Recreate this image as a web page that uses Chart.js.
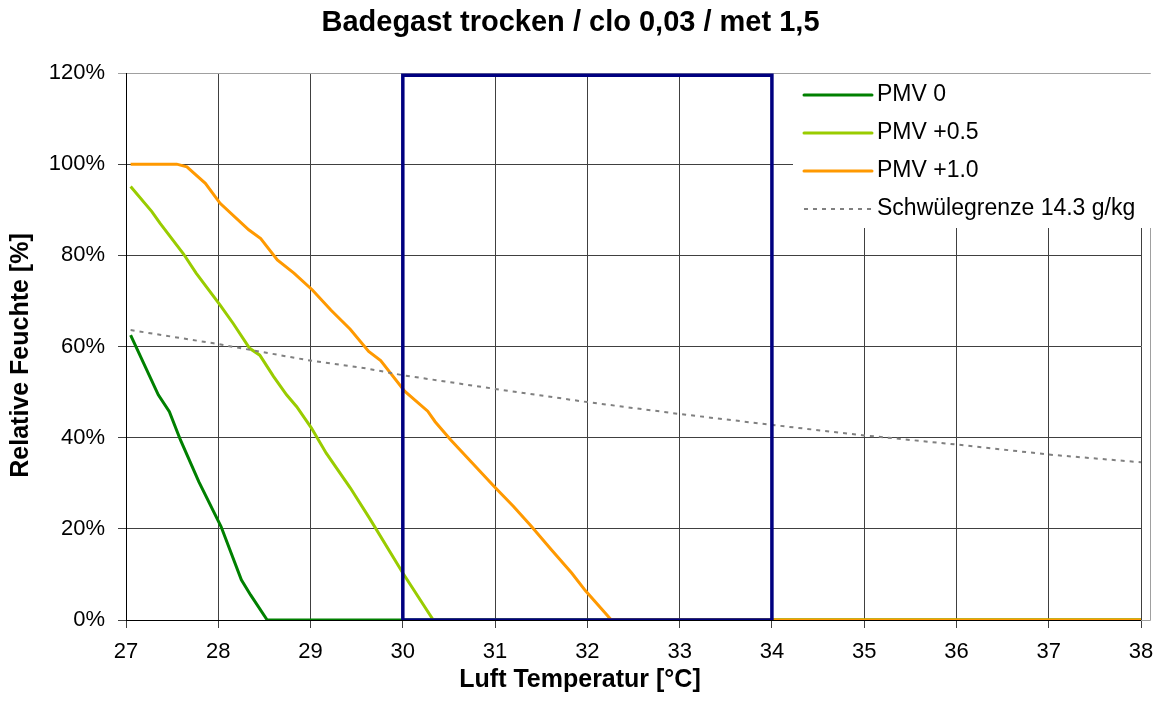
<!DOCTYPE html>
<html>
<head>
<meta charset="utf-8">
<title>Badegast trocken</title>
<script src="https://cdn.jsdelivr.net/npm/chart.js@4.4.1/dist/chart.umd.min.js"></script>
<style>
    html, body { margin: 0; padding: 0; background: #fff; }
    #wrap { width: 1166px; height: 711px; }
</style>
</head>
<body>
<div id="wrap"><canvas id="pmvChart" width="1166" height="711"></canvas></div>
<script>
// Luft Temperatur [°C] und relative Feuchte [%]
const seriesLabels = ['PMV 0', 'PMV +0.5', 'PMV +1.0', 'Schwülegrenze 14.3 g/kg'];

const pmv0Temp = [27.05, 27.35, 27.47, 27.59, 27.79, 28.03, 28.25, 28.35, 28.53, 30, 34, 38];
const pmv0Rh   = [62.5, 49.4, 45.7, 39.5, 30.3, 20.5, 8.8, 5.5, 0, 0, 0, 0];

const pmv05Temp = [27.05, 27.28, 27.37, 27.62, 27.76, 28.02, 28.16, 28.34, 28.45, 28.6, 28.74, 28.85, 29.01, 29.17, 29.43, 29.64, 30.0, 30.33, 34, 38];
const pmv05Rh   = [95.1, 89.6, 87.0, 80.4, 76.1, 69.1, 65.1, 59.6, 58.1, 53.4, 49.4, 46.8, 42.1, 36.6, 29.0, 22.3, 10.3, 0, 0, 0];

const pmv10Temp = [27.05, 27.55, 27.66, 27.86, 28.02, 28.33, 28.46, 28.64, 28.82, 29.02, 29.22, 29.43, 29.63, 29.76, 30.02, 30.27, 30.35, 30.52, 30.74, 30.99, 31.2, 31.39, 31.61, 31.83, 31.98, 32.26, 34, 38];
const pmv10Rh   = [100, 100, 99.4, 95.8, 91.4, 85.6, 83.7, 79.0, 76.1, 72.4, 68.0, 63.8, 58.9, 56.9, 50.2, 45.8, 43.5, 39.5, 34.7, 29.3, 24.9, 20.6, 15.4, 10.3, 6.4, 0, 0, 0];

const limitTemp = [27.05, 27.95, 28.97, 29.6, 30, 31, 32, 33, 34, 35, 36, 37, 38];
const limitRh   = [63.6, 60.7, 57.0, 55.2, 53.7, 50.7, 47.8, 45.2, 42.8, 40.5, 38.5, 36.3, 34.6];

// markierter Bereich 30..34 °C
const boxTemp = [30, 30, 34, 34, 30];
const boxRh   = [0, 119.5, 119.5, 0, 0];

const xTicks = [27, 28, 29, 30, 31, 32, 33, 34, 35, 36, 37, 38];
const yTicks = [0, 20, 40, 60, 80, 100, 120];

const chartTitle = 'Badegast trocken / clo 0,03 / met 1,5';
const xTitle = 'Luft Temperatur [°C]';
const yTitle = 'Relative Feuchte [%]';

const toPoints = (xs, ys) => xs.map((x, i) => ({ x: x, y: ys[i] }));

const FONT = "'Liberation Sans', Arial, sans-serif";
Chart.defaults.font.family = FONT;
Chart.defaults.color = '#000';

// Legende innerhalb der Zeichenfläche, oben rechts, plus Achsentitel
const insideLegend = {
    id: 'insideLegend',
    beforeDatasetsDraw(chart) {
        const ctx = chart.ctx;
        const a = chart.chartArea;
        ctx.save();
        ctx.strokeStyle = '#a0a0a0';
        ctx.lineWidth = 1;
        ctx.beginPath();
        ctx.moveTo(a.right, a.top + 0.5);
        ctx.lineTo(a.right + 9.5, a.top + 0.5);
        ctx.lineTo(a.right + 9.5, a.bottom + 0.5);
        ctx.lineTo(a.right, a.bottom + 0.5);
        ctx.stroke();
        ctx.restore();
    },
    afterDatasetsDraw(chart) {
        const ctx = chart.ctx;
        const a = chart.chartArea;
        const items = chart.data.datasets.filter(d => d.label);
        const left = a.right - 348;
        const top = a.top + 1;
        ctx.save();
        ctx.fillStyle = '#fff';
        ctx.fillRect(left, top, 362, 154);
        ctx.font = '23px ' + FONT;
        ctx.textBaseline = 'middle';
        items.forEach((ds, i) => {
            const y = a.top + 22 + i * 38;
            ctx.beginPath();
            ctx.strokeStyle = ds.borderColor;
            ctx.lineWidth = ds.borderWidth;
            ctx.lineCap = ds.borderDash ? 'butt' : 'round';
            ctx.setLineDash(ds.borderDash || []);
            ctx.moveTo(left + 11, y);
            ctx.lineTo(left + 79, y);
            ctx.stroke();
            ctx.fillStyle = '#000';
            ctx.fillText(ds.label, left + 84, y);
        });
        ctx.restore();
    },
    afterDraw(chart) {
        // Achsentitel sind im Original auf die ganze Bildfläche zentriert
        const ctx = chart.ctx;
        ctx.save();
        ctx.fillStyle = '#000';
        ctx.font = 'bold 25px ' + FONT;
        ctx.textAlign = 'center';
        ctx.textBaseline = 'middle';
        ctx.fillText(xTitle, chart.width / 2 - 3, 680);
        ctx.translate(21.5, chart.height / 2);
        ctx.rotate(-Math.PI / 2);
        ctx.fillText(yTitle, 0, 0);
        ctx.restore();
    }
};

const chartData = {
    datasets: [
        {
            label: seriesLabels[0],
            data: toPoints(pmv0Temp, pmv0Rh),
            borderColor: '#008000',
            borderWidth: 3,
            order: 4
        },
        {
            label: seriesLabels[1],
            data: toPoints(pmv05Temp, pmv05Rh),
            borderColor: '#99cc00',
            borderWidth: 3,
            order: 3
        },
        {
            label: seriesLabels[2],
            data: toPoints(pmv10Temp, pmv10Rh),
            borderColor: '#ff9900',
            borderWidth: 3,
            order: 2
        },
        {
            label: seriesLabels[3],
            data: toPoints(limitTemp, limitRh),
            borderColor: '#808080',
            borderWidth: 2,
            borderDash: [4, 5],
            order: 1
        },
        {
            label: '',
            data: toPoints(boxTemp, boxRh),
            borderColor: '#000080',
            borderWidth: 3.5,
            borderJoinStyle: 'miter',
            order: 0
        }
    ]
};

const chartConfig = {
    type: 'line',
    data: chartData,
    options: {
        responsive: false,
        animation: false,
        layout: {
            padding: { left: 0, right: 25, top: 0, bottom: 0 }
        },
        elements: {
            point: { radius: 0 },
            line: { tension: 0, fill: false }
        },
        plugins: {
            legend: { display: false },
            tooltip: { enabled: false },
            title: {
                display: true,
                text: chartTitle,
                font: { size: 29, weight: 'bold' },
                color: '#000',
                padding: { top: 6, bottom: 32.2 }
            }
        },
        scales: {
            x: {
                type: 'linear',
                min: 27,
                max: 38,
                afterBuildTicks: (scale) => { scale.ticks = xTicks.map(v => ({ value: v })); },
                afterFit: (scale) => { scale.height = 91; },
                grid: {
                    color: '#404040',
                    lineWidth: 1,
                    tickLength: 8
                },
                border: { color: '#000', width: 1 },
                ticks: {
                    font: { size: 22 },
                    padding: 11,
                    maxRotation: 0
                }
            },
            y: {
                min: 0,
                max: 120,
                afterBuildTicks: (scale) => { scale.ticks = yTicks.map(v => ({ value: v })); },
                afterFit: (scale) => { scale.width = 126; },
                grid: {
                    color: (context) => context.tick && context.tick.value === 120 ? '#a0a0a0' : '#404040',
                    lineWidth: 1,
                    tickLength: 8
                },
                border: { color: '#000', width: 1 },
                ticks: {
                    font: { size: 22 },
                    padding: 13,
                    callback: (value) => value + '%'
                }
            }
        }
    },
    plugins: [insideLegend]
};

const pmvChart = new Chart(document.getElementById('pmvChart'), chartConfig);
</script>
</body>
</html>
